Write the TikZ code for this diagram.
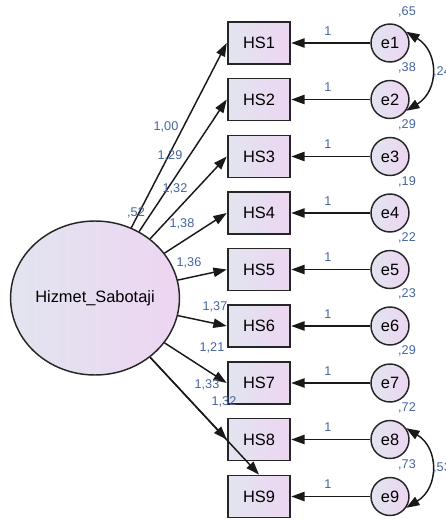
\documentclass[tikz,border=0pt]{standalone}
\usepackage{fontspec}
\setmainfont{Liberation Sans}
\usetikzlibrary{arrows.meta,shapes.geometric}
\definecolor{fillL}{RGB}{226,229,240}
\definecolor{fillR}{RGB}{237,213,241}
\definecolor{estcol}{RGB}{70,100,158}

\begin{document}
\begin{tikzpicture}[x=0.75pt,y=-0.75pt]
    \tikzstyle{observed} = [draw=black!85,line width=1.4pt,left color=fillL,right color=fillR,
                            minimum width=47pt,minimum height=31.5pt,inner sep=0pt,
                            font=\fontsize{12.3}{14}\selectfont]
    \tikzstyle{latent}   = [ellipse,draw=black!85,line width=1.1pt,left color=fillL,right color=fillR,
                            minimum width=126pt,minimum height=115.5pt,inner sep=0pt,
                            font=\fontsize{12.3}{14}\selectfont]
    \tikzstyle{error}    = [circle,draw=black!85,line width=1.1pt,left color=fillL,right color=fillR,
                            minimum size=28.5pt,inner sep=0pt,font=\fontsize{12.3}{14}\selectfont]
    \tikzstyle{estimate} = [text=estcol,inner sep=0pt,font=\fontsize{9.5}{11}\selectfont]

    \tikzstyle{edge}     = [black!90,line width=1.1pt,-{Triangle[length=10pt,width=7pt]}]
    \tikzstyle{cov edge} = [black!90,line width=1.1pt,{Triangle[length=10pt,width=7pt]}-{Triangle[length=10pt,width=7pt]}]

    \useasboundingbox (0,0) rectangle (446,521);

    \node[latent]   (hiz) at (95,298)    {Hizmet\_Sabotaji};

    \node[observed] (hs1) at (259,43)    {HS1};
    \node[observed] (hs2) at (259,99.5)  {HS2};
    \node[observed] (hs3) at (259,156.5) {HS3};
    \node[observed] (hs4) at (259,213)   {HS4};
    \node[observed] (hs5) at (259,269.5) {HS5};
    \node[observed] (hs6) at (259,326)   {HS6};
    \node[observed] (hs7) at (259,383)   {HS7};
    \node[observed] (hs8) at (259,439.5) {HS8};
    \node[observed] (hs9) at (259,496.5) {HS9};

    \node[error]    (e1) at (390,43)    {e1};
    \node[error]    (e2) at (390,99.5)  {e2};
    \node[error]    (e3) at (390,156.5) {e3};
    \node[error]    (e4) at (390,213)   {e4};
    \node[error]    (e5) at (390,269.5) {e5};
    \node[error]    (e6) at (390,326)   {e6};
    \node[error]    (e7) at (390,383)   {e7};
    \node[error]    (e8) at (390,439.5) {e8};
    \node[error]    (e9) at (390,496.5) {e9};

    % loadings
    \draw[edge] (hiz)--(hs1.west);
    \draw[edge] (hiz)--(hs2.west);
    \draw[edge] (hiz)--(hs3.west);
    \draw[edge] (hiz)--(hs4.west);
    \draw[edge] (hiz)--(hs5.west);
    \draw[edge] (hiz)--(hs6.west);
    \draw[edge] (hiz)--(hs7.west);
    \draw[edge] (hiz)--(hs8.west);
    \draw[edge] (hiz)--(hs9.north);

    % errors
    \draw[edge] (e1)--(hs1);
    \draw[edge] (e2)--(hs2);
    \draw[edge] (e3)--(hs3);
    \draw[edge] (e4)--(hs4);
    \draw[edge] (e5)--(hs5);
    \draw[edge] (e6)--(hs6);
    \draw[edge] (e7)--(hs7);
    \draw[edge] (e8)--(hs8);
    \draw[edge] (e9)--(hs9);

    % covariances
    \draw[cov edge] (e1.35) .. controls +(33,20) and +(33,-20) .. (e2.-35);
    \draw[cov edge] (e8.35) .. controls +(33,20) and +(33,-20) .. (e9.-35);

    \node[estimate] (v0) at (136,213) {,52};

    \node[estimate] (l1) at (166,127) {1,00};
    \node[estimate] (l2) at (170,156) {1,29};
    \node[estimate] (l3) at (175,189) {1,32};
    \node[estimate] (l4) at (182,224) {1,38};
    \node[estimate] (l5) at (189,263) {1,36};
    \node[estimate] (l6) at (215,307) {1,37};
    \node[estimate] (l7) at (212,348) {1,21};
    \node[estimate] (l8) at (207,385) {1,33};
    \node[estimate] (l9) at (224,402) {1,32};

    \node[estimate] (w1) at (328,31)    {1};
    \node[estimate] (w2) at (328,87.5)  {1};
    \node[estimate] (w3) at (328,144.5) {1};
    \node[estimate] (w4) at (328,201)   {1};
    \node[estimate] (w5) at (328,257.5) {1};
    \node[estimate] (w6) at (328,314)   {1};
    \node[estimate] (w7) at (328,371)   {1};
    \node[estimate] (w8) at (328,427.5) {1};
    \node[estimate] (w9) at (328,484.5) {1};

    \node[estimate] (r1) at (407,12)    {,65};
    \node[estimate] (r2) at (407,68)    {,38};
    \node[estimate] (r3) at (407,125)   {,29};
    \node[estimate] (r4) at (407,182)   {,19};
    \node[estimate] (r5) at (407,238)   {,22};
    \node[estimate] (r6) at (407,294)   {,23};
    \node[estimate] (r7) at (407,351)   {,29};
    \node[estimate] (r8) at (407,408)   {,72};
    \node[estimate] (r9) at (407,465)   {,73};

    \node[estimate] (c12) at (442,72)  {,24};
    \node[estimate] (c89) at (442,468) {,53};
\end{tikzpicture}
\end{document}
